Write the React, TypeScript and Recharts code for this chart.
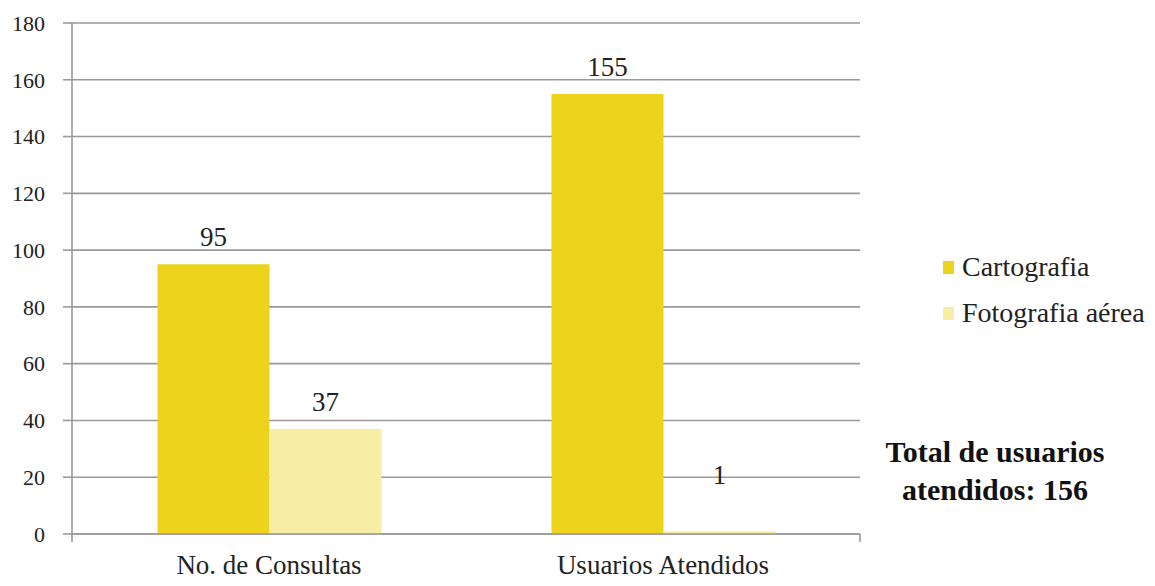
import React from "react";
import { BarChart, Bar, XAxis, YAxis, CartesianGrid, Legend, LabelList } from "recharts";

const categories = ["No. de Consultas", "Usuarios Atendidos"];
const cartografia = [95, 155];
const fotografiaAerea = [37, 1];
const yTicks = [0, 20, 40, 60, 80, 100, 120, 140, 160, 180];
const seriesNames = ["Cartografia", "Fotografia aérea"];
const seriesColors = ["#EDD31B", "#F7EDA5"];
const totalLines = ["Total de usuarios", "atendidos: 156"];

const data = categories.map((c, i) => ({
  name: c,
  cartografia: cartografia[i],
  fotografia: fotografiaAerea[i],
}));

const FONT = "'Liberation Serif', 'Times New Roman', serif";

const ValueLabel = (props: any) => {
  const { x, y, width, height, value } = props;
  const h = Number(height) || 0;
  const baseY = h < 30 ? y + h - 50 : y - 18;
  return (
    <text x={x + width / 2} y={baseY} textAnchor="middle" fontFamily={FONT} fontSize={27} fill="#222">
      {value}
    </text>
  );
};

const LegendContent = () => (
  <div style={{ fontFamily: FONT, fontSize: 28, color: "#222" }}>
    {seriesNames.map((n, i) => (
      <div key={n} style={{ display: "flex", alignItems: "center", height: 46 }}>
        <span style={{ display: "inline-block", width: 11, height: 13, background: seriesColors[i], marginRight: 8 }} />
        <span>{n}</span>
      </div>
    ))}
  </div>
);

export default function App() {
  return (
    <div style={{ position: "absolute", left: 0, top: 0, width: 1155, height: 586, background: "#fff" }}>
      <BarChart
        width={1155}
        height={586}
        data={data}
        margin={{ top: 23, right: 85, bottom: 0, left: 0 }}
        barCategoryGap="21.7%"
        barGap={0}
      >
        <CartesianGrid vertical={false} stroke="#999" strokeWidth={1.6} />
        <XAxis
          type="number"
          domain={[0, 2]}
          ticks={[0, 1, 2]}
          interval={0}
          height={8}
          tickFormatter={() => ""}
          tick={{ fontSize: 1 }}
          tickSize={8}
          axisLine={{ stroke: "#999", strokeWidth: 1.6 }}
          tickLine={{ stroke: "#999", strokeWidth: 1.6 }}
        />
        <XAxis
          xAxisId="cat"
          dataKey="name"
          height={44}
          tickSize={0}
          tickMargin={13}
          axisLine={false}
          tickLine={false}
          tick={{ fontFamily: FONT, fontSize: 27, fill: "#222" }}
        />
        <YAxis
          width={72}
          domain={[0, 180]}
          ticks={yTicks}
          interval={0}
          tickSize={9}
          tickMargin={18}
          axisLine={{ stroke: "#999", strokeWidth: 1.6 }}
          tickLine={{ stroke: "#999", strokeWidth: 1.6 }}
          tick={{ fontFamily: FONT, fontSize: 22, fill: "#222" }}
        />
        <Legend
          layout="vertical"
          verticalAlign="top"
          align="right"
          content={<LegendContent />}
          wrapperStyle={{ left: 943, top: 244, width: 210 }}
        />
        <Bar xAxisId="cat" dataKey="cartografia" name={seriesNames[0]} fill={seriesColors[0]} isAnimationActive={false}>
          <LabelList dataKey="cartografia" content={<ValueLabel />} />
        </Bar>
        <Bar xAxisId="cat" dataKey="fotografia" name={seriesNames[1]} fill={seriesColors[1]} isAnimationActive={false}>
          <LabelList dataKey="fotografia" content={<ValueLabel />} />
        </Bar>
      </BarChart>
      <div
        style={{
          position: "absolute",
          left: 870,
          top: 433,
          width: 250,
          textAlign: "center",
          fontFamily: FONT,
          fontWeight: "bold",
          fontSize: 30,
          lineHeight: "38px",
          color: "#111",
        }}
      >
        {totalLines.map((l) => (
          <div key={l}>{l}</div>
        ))}
      </div>
    </div>
  );
}
